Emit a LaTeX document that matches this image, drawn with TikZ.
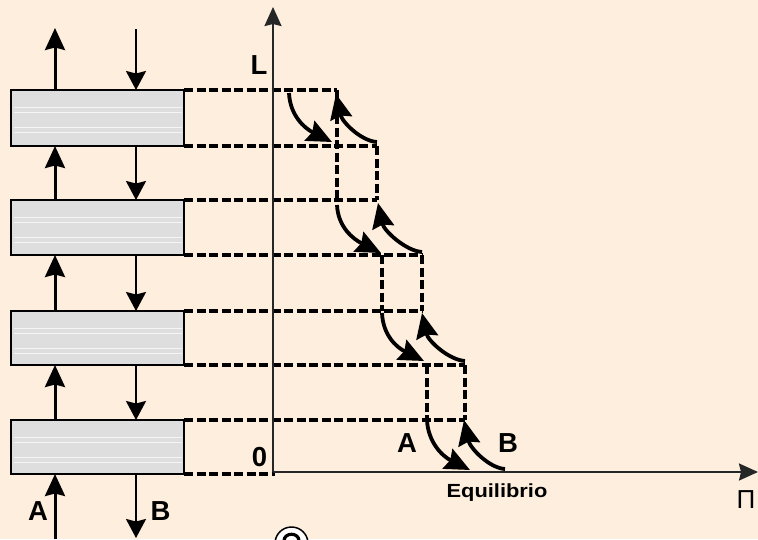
\documentclass[tikz,border=0pt]{standalone}
\usepackage{fontspec}
\setmainfont{Liberation Sans}
\usetikzlibrary{arrows.meta,calc}
\definecolor{bg}{RGB}{254,238,222}
\definecolor{boxfill}{RGB}{222,222,222}
\begin{document}
\begin{tikzpicture}[x=1pt,y=-1pt,
  lbl/.style={font=\fontsize{27.5}{27.5}\selectfont\bfseries, inner sep=0},
  box/.style={draw, line width=2.8pt, fill=boxfill, minimum width=173pt, inner sep=0, outer sep=0},
  stripe/.style={draw=white!70!boxfill, line width=0.9pt},
  flowup/.style={line width=3pt, -{Stealth[length=22pt,width=20pt,inset=2.5pt]}},
  flowdn/.style={line width=2.3pt, -{Stealth[length=19pt,width=20pt,inset=2.5pt]}},
  dsh/.style={line width=3.3pt, dash pattern=on 9pt off 3.5pt},
  axisline/.style={line width=2pt, draw=black!85, -{Stealth[length=19pt,width=17pt,inset=2pt]}},
  curv/.style={line width=3.8pt, -{Stealth[length=25pt,width=22pt,inset=3pt]}}
]
\useasboundingbox (0,0) rectangle (758,539);
\clip (0,0) rectangle (758,539);
\fill[bg] (0,0) rectangle (758,539);

% boxes
\node[box, minimum height=56pt] (b1) at (97.5,118) {};
\node[box, minimum height=55pt] (b2) at (97.5,227.5) {};
\node[box, minimum height=54pt] (b3) at (97.5,338) {};
\node[box, minimum height=54pt] (b4) at (97.5,447) {};
\foreach \b in {b1,b2,b3,b4}{
  \foreach \o in {17,22,37,42}{
    \draw[stripe] ($(\b.north west)+(2.5,\o)$) -- ($(\b.north east)+(-2.5,\o)$);
  }
}

% flow arrows
\coordinate (lx) at (55,0);
\coordinate (rx) at (136,0);
\coordinate (topL) at (55,28);
\coordinate (topR) at (136,29);
\coordinate (botL) at (55,539);
\coordinate (botR) at (136,538);
\draw[flowup] (b1.north -| lx) -- (topL);
\draw[flowdn] (topR) -- (b1.north -| rx);
\draw[flowup] (b2.north -| lx) -- (b1.south -| lx);
\draw[flowdn] (b1.south -| rx) -- (b2.north -| rx);
\draw[flowup] (b3.north -| lx) -- (b2.south -| lx);
\draw[flowdn] (b2.south -| rx) -- (b3.north -| rx);
\draw[flowup] (b4.north -| lx) -- (b3.south -| lx);
\draw[flowdn] (b3.south -| rx) -- (b4.north -| rx);
\draw[flowup] (botL) -- (b4.south -| lx);
\draw[flowdn] (b4.south -| rx) -- (botR);

% staircase corners
\coordinate (c1) at (337,90);
\coordinate (c1b) at (337,200);
\coordinate (c2) at (377,146);
\coordinate (c3) at (377,200);
\coordinate (c4) at (422,255);
\coordinate (c4b) at (382,255);
\coordinate (c5) at (422,311);
\coordinate (c5b) at (382,311);
\coordinate (c6) at (465,365);
\coordinate (c6b) at (427,365);
\coordinate (c7) at (465,420);
\coordinate (c7b) at (427,420);
\coordinate (c8) at (275,474);

\draw[dsh] (b1.north east) -- (c1);
\draw[dsh] (b1.south east) -- (c2);
\draw[dsh] (b2.north east) -- (c3);
\draw[dsh] (b2.south east) -- (c4);
\draw[dsh] (b3.north east) -- (c5);
\draw[dsh] (b3.south east) -- (c6);
\draw[dsh] (b4.north east) -- (c7);
\draw[dsh] (b4.south east) -- (c8);
\draw[dsh] (c1) -- (c1b);
\draw[dsh] (c2) -- (c3);
\draw[dsh] (c4b) -- (c5b);
\draw[dsh] (c4) -- (c5);
\draw[dsh] (c6b) -- (c7b);
\draw[dsh] (c6) -- (c7);

% axes
\coordinate (O) at (273,472);
\coordinate (Ytop) at (273,7);
\coordinate (Xend) at (758,472);
\draw[axisline] (O) -- (Ytop);
\draw[axisline] (O) -- (Xend);

% curved arrows
\coordinate (d1s) at (289,93);  \coordinate (d1e) at (332,142);
\coordinate (u1s) at (377,142); \coordinate (u1e) at (336,94);
\coordinate (d2s) at (337,205); \coordinate (d2e) at (381,253);
\coordinate (u2s) at (422,252); \coordinate (u2e) at (378,203);
\coordinate (d3s) at (382,313); \coordinate (d3e) at (424,361);
\coordinate (u3s) at (465,361); \coordinate (u3e) at (422,313);
\coordinate (d4s) at (427,420); \coordinate (d4e) at (470,470);
\coordinate (u4s) at (505,469); \coordinate (u4e) at (464,420);
\foreach \k in {1,2,3,4}{
  \draw[curv] (d\k s) .. controls +(1,22) and +(-28,-14) .. (d\k e);
  \draw[curv] (u\k s) .. controls +(-16,-1) and +(6,28) .. (u\k e);
}

% labels
\node[lbl] (A1) at (38,511) {A};
\node[lbl] (B1) at (160.5,511) {B};
\node[lbl] (Lb) at (259,65.5) {L};
\node[lbl] (zero) at (259.5,457) {0};
\node[lbl] (A2) at (407,443.5) {A};
\node[lbl] (B2) at (508,443.5) {B};
\node[font=\fontsize{19}{19}\selectfont\bfseries, inner sep=0, xscale=1.15] (eq) at (497,492.5) {Equilibrio};
\node[font=\fontsize{26}{26}\selectfont, inner sep=0] (pi) at (746,499.5) {Π};

% partially visible circled mark
\node[circle, draw, fill=white, line width=1.5pt, minimum size=33pt, inner sep=0] (circ) at (291.5,543.5) {};
\draw[line width=3.2pt] (284,541) .. controls (284,532) and (299,532) .. (299,541);
\end{tikzpicture}
\end{document}
